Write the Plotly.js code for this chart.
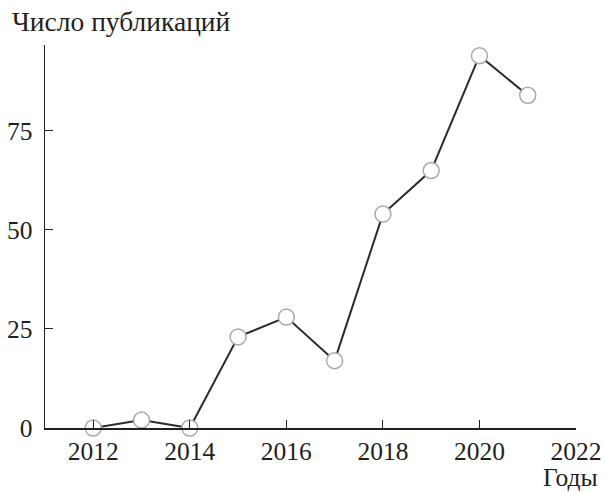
<!DOCTYPE html>
<html>
<head>
<meta charset="utf-8">
<script src="https://cdn.plot.ly/plotly-3.0.1.min.js"></script>
<style>body{margin:0;background:#fff}#chart{width:604px;height:492px}</style>
</head>
<body>
<div id="chart"></div>
<script>
const years = [2012, 2013, 2014, 2015, 2016, 2017, 2018, 2019, 2020, 2021];
const publications = [0, 2, 0, 23, 28, 17, 54, 65, 94, 84];
const xTicks = [2012, 2014, 2016, 2018, 2020, 2022];
const yTicks = [0, 25, 50, 75];
const yTitle = 'Число публикаций';
const xTitle = 'Годы';

const font = {family: 'Liberation Serif', size: 25.5, color: '#231f20'};
const titleFont = {family: 'Liberation Serif', size: 27.5, color: '#231f20'};

const trace = {
  x: years, y: publications, type: 'scatter', mode: 'lines+markers',
  line: {color: '#2b2b2b', width: 2},
  marker: {symbol: 'circle', size: 16, color: '#ffffff', line: {color: '#a9a9a9', width: 1.5}},
  cliponaxis: false, hoverinfo: 'skip'
};

const layout = {
  width: 604, height: 492,
  margin: {l: 45, r: 28, t: 45, b: 64},
  paper_bgcolor: '#fff', plot_bgcolor: '#fff',
  font: font,
  showlegend: false,
  xaxis: {
    range: [2011, 2022], tickvals: xTicks, ticktext: xTicks.map(String),
    showgrid: false, zeroline: false, showline: true, linecolor: '#231f20', linewidth: 1.5,
    ticks: 'inside', ticklen: 8, tickwidth: 1, tickcolor: '#231f20', tickfont: font
  },
  yaxis: {
    range: [0, 96.7], tickvals: yTicks, ticktext: yTicks.map(String),
    showgrid: false, zeroline: false, showline: true, linecolor: '#231f20', linewidth: 1.5,
    ticks: 'inside', ticklen: 8, tickwidth: 1, tickcolor: '#231f20', tickfont: font,
    ticklabelstandoff: 6
  },
  annotations: [
    {text: yTitle, xref: 'paper', yref: 'paper', x: -0.066, y: 1.062, xanchor: 'left', yanchor: 'middle', showarrow: false, font: titleFont},
    {text: xTitle, xref: 'paper', yref: 'paper', x: 1.045, y: -0.128, xanchor: 'right', yanchor: 'middle', showarrow: false, font: font}
  ]
};

Plotly.newPlot('chart', [trace], layout, {displayModeBar: false, staticPlot: true});
</script>
</body>
</html>
